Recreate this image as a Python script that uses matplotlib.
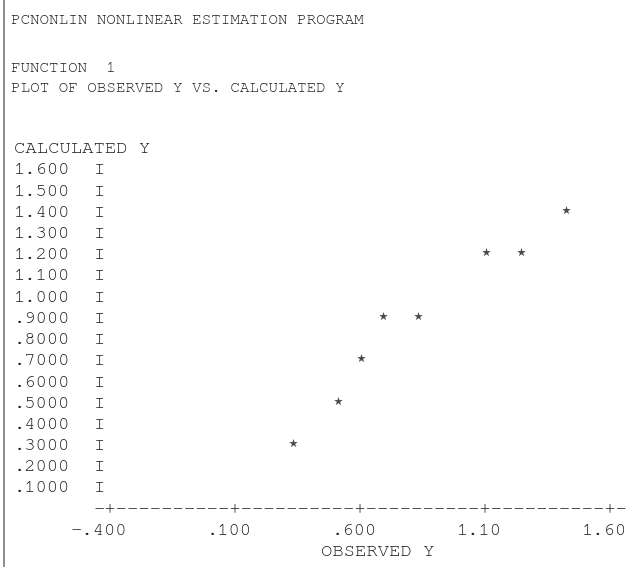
import matplotlib
matplotlib.use("Agg")
import matplotlib.pyplot as plt
from matplotlib.lines import Line2D
from matplotlib.transforms import ScaledTranslation
import numpy as np
import logging
logging.getLogger("matplotlib.font_manager").setLevel(logging.ERROR)

# ---- data ----
observed_y = [0.33, 0.51, 0.60, 0.69, 0.83, 1.10, 1.24, 1.42]
calculated_y = [0.30, 0.50, 0.70, 0.90, 0.90, 1.20, 1.20, 1.40]

y_tick_values = [1.6, 1.5, 1.4, 1.3, 1.2, 1.1, 1.0, 0.9, 0.8, 0.7, 0.6, 0.5, 0.4, 0.3, 0.2, 0.1]
y_tick_labels = ["1.600", "1.500", "1.400", "1.300", "1.200", "1.100", "1.000", ".9000",
                 ".8000", ".7000", ".6000", ".5000", ".4000", ".3000", ".2000", ".1000"]
x_tick_values = [-0.4, 0.1, 0.6, 1.1, 1.6]
x_tick_labels = ["-.400", ".100", ".600", "1.10", "1.60"]

header_lines = ["PCNONLIN NONLINEAR ESTIMATION PROGRAM", "FUNCTION  1",
                "PLOT OF OBSERVED Y VS. CALCULATED Y"]
y_title = "CALCULATED Y"
x_title = "OBSERVED Y"

# ---- layout ----
W, H = 631, 567
fig = plt.figure(figsize=(W / 100, H / 100), dpi=100)
fig.patch.set_facecolor("white")
ax = fig.add_axes([0, 0, 1, 1])
ax.set_axis_off()

px_per_unit_x = 250.0          # pixels per data unit (x)
px_per_unit_y = 212.0          # pixels per data unit (y)
x0_px = 110.56                 # pixel column of x = -0.4
y16_py = 170.5                 # pixel row of y = 1.6
ax.set_xlim(-0.4 - x0_px / px_per_unit_x, -0.4 + (W - x0_px) / px_per_unit_x)
ax.set_ylim(1.6 - (H - y16_py) / px_per_unit_y, 1.6 + y16_py / px_per_unit_y)

color = "#1e1e1e"
mono = ["Nimbus Mono PS", "FreeMono", "Courier Prime", "Liberation Mono"]
plot_fs = 13.63
head_fs = 11.45
cw = (x_tick_values[1] - x_tick_values[0]) / 11.0   # one character column in data units
row = 0.1

# header
head_y_px = [21, 68, 88]
for txt, ypx in zip(header_lines, head_y_px):
    fig.text(11 / W, 1 - ypx / H, txt, family=mono, fontsize=head_fs, color=color,
             ha="left", va="center")

# y title
ax.text(x_tick_values[0] - 8.5 * cw, max(y_tick_values) + row, y_title, family=mono,
        fontsize=plot_fs, color=color, ha="left", va="center")

# y axis labels and 'I' column
for v, lab in zip(y_tick_values, y_tick_labels):
    ax.text(x_tick_values[0] - 3.55 * cw, v, lab, family=mono, fontsize=plot_fs,
            color=color, ha="right", va="center")
    ax.text(x_tick_values[0] - cw, v, "I", family=mono, fontsize=plot_fs,
            color=color, ha="center", va="center")

# x axis line
axis_str = "-+" + ("-" * 10 + "+") * (len(x_tick_values) - 1) + "-"
axis_y = min(y_tick_values) - row
ax.text(np.mean([x_tick_values[0], x_tick_values[-1]]), axis_y, axis_str, family=mono,
        fontsize=plot_fs, color=color, ha="center", va="center")

# x tick labels
for v, lab in zip(x_tick_values, x_tick_labels):
    ax.text(v + 1.45 * cw, axis_y - row, lab, family=mono, fontsize=plot_fs,
            color=color, ha="right", va="center")

# x title
ax.text(x_tick_values[0] + 18.5 * cw, axis_y - 2 * row, x_title, family=mono,
        fontsize=plot_fs, color=color, ha="left", va="center")

# points (asterisks sit slightly above the text row centre)
lift = ax.transData + ScaledTranslation(0, 3 / 100, fig.dpi_scale_trans)
ax.scatter(observed_y, calculated_y, marker="*", s=42, color="#4a4a4a", linewidths=0,
           zorder=3, transform=lift)

# left border
fig.add_artist(Line2D([4 / W, 4 / W], [0, 1], transform=fig.transFigure,
                      color="#8c8c8c", linewidth=1.4))

fig.savefig("out.png", dpi=100, facecolor="white")
